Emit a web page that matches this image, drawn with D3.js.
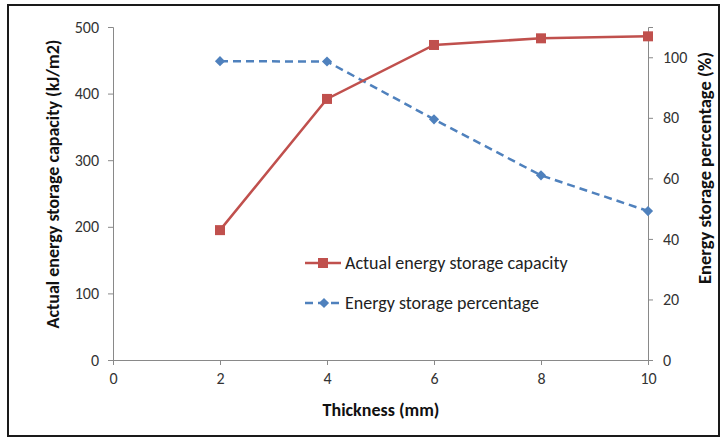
<!DOCTYPE html>
<html>
<head>
<meta charset="utf-8">
<script src="https://cdn.jsdelivr.net/npm/d3@7"></script>
<style>
  body { margin: 0; background: #fff; }
  text { font-family: Carlito, "Liberation Sans", Arial, sans-serif; }
  .axis path, .axis line { stroke: #898989; }
  .axis text { fill: #333; font-size: 16px; }
</style>
</head>
<body>
<script>

// data
var thickness = [2, 4, 6, 8, 10];
var capacity = [195, 392, 473, 483, 486];
var percentage = [98.7, 98.6, 79.5, 61, 49.2];

var xTicks = [0, 2, 4, 6, 8, 10];
var yLeftTicks = [0, 100, 200, 300, 400, 500];
var yRightTicks = [0, 20, 40, 60, 80, 100];

var size_graph = { x : 721, y : 439 }
var margin = {top: 27, right: 72, bottom: 79, left: 113},
    width  = 648 - margin.left,
    height = 360 - margin.top;

var x = d3.scaleLinear().domain([0, 10]).range([0, width]);
var yL = d3.scaleLinear().domain([0, 500]).range([height, 0]);
var yR = d3.scaleLinear().domain([0, 110]).range([height, 0]);

var root = d3.select("body").append("svg")
    .attr("width", size_graph.x)
    .attr("height", size_graph.y);

// outer frame
root.append("rect")
    .attr("x", 8).attr("y", 5)
    .attr("width", 711).attr("height", 431)
    .attr("fill", "none")
    .attr("stroke", "#1a1a1a")
    .attr("stroke-width", 2);

var svg = root.append("g")
    .attr("transform", `translate(${margin.left},${margin.top})`);

svg.append("g").attr("class", "axis")
    .attr("transform", `translate(0,${height})`)
    .call(d3.axisBottom(x).tickValues(xTicks).tickSize(5).tickPadding(8));

svg.append("g").attr("class", "axis")
    .call(d3.axisLeft(yL).tickValues(yLeftTicks).tickSize(5).tickPadding(9));

svg.append("g").attr("class", "axis")
    .attr("transform", `translate(${width},0)`)
    .call(d3.axisRight(yR).tickValues(yRightTicks).tickSize(5).tickPadding(10));

svg.selectAll(".axis").attr("font-size", null).attr("font-family", null);

var red = "#C0504D", blue = "#4F81BD";
var pts = thickness.map((t, i) => ({t: t, c: capacity[i], p: percentage[i]}));

svg.append("path")
    .datum(pts)
    .attr("fill", "none")
    .attr("stroke", blue)
    .attr("stroke-width", 2.5)
    .attr("stroke-dasharray", "8,5")
    .attr("d", d3.line().x(d => x(d.t)).y(d => yR(d.p)));

svg.selectAll(".dia")
    .data(pts).enter().append("path")
    .attr("transform", d => `translate(${x(d.t)},${yR(d.p)}) rotate(45)`)
    .attr("d", "M-3.6,-3.6h7.2v7.2h-7.2z")
    .attr("fill", blue);

svg.append("path")
    .datum(pts)
    .attr("fill", "none")
    .attr("stroke", red)
    .attr("stroke-width", 2.5)
    .attr("d", d3.line().x(d => x(d.t)).y(d => yL(d.c)));

svg.selectAll(".sq")
    .data(pts).enter().append("rect")
    .attr("x", d => x(d.t) - 5)
    .attr("y", d => yL(d.c) - 5)
    .attr("width", 10).attr("height", 10)
    .attr("fill", red);

// legend
var legend = root.append("g").attr("transform", "translate(305,263)");
legend.append("line").attr("x1", 0).attr("x2", 36).attr("y1", 0).attr("y2", 0)
    .attr("stroke", red).attr("stroke-width", 2.5);
legend.append("rect").attr("x", 13).attr("y", -5).attr("width", 10).attr("height", 10)
    .attr("fill", red);
legend.append("text").attr("x", 40).attr("y", 6).attr("font-size", 18).attr("fill", "#222")
    .text("Actual energy storage capacity");

legend.append("line").attr("x1", 0).attr("x2", 36).attr("y1", 40).attr("y2", 40)
    .attr("stroke", blue).attr("stroke-width", 2.5).attr("stroke-dasharray", "8,5");
legend.append("path").attr("transform", "translate(19,40) rotate(45)")
    .attr("d", "M-3.6,-3.6h7.2v7.2h-7.2z").attr("fill", blue);
legend.append("text").attr("x", 40).attr("y", 46).attr("font-size", 18).attr("fill", "#222")
    .text("Energy storage percentage");

// axis titles
root.append("text")
    .attr("transform", "translate(59,184) rotate(-90)")
    .attr("text-anchor", "middle")
    .attr("font-size", 18).attr("font-weight", "bold").attr("fill", "#111")
    .text("Actual energy storage capacity (kJ/m2)");

root.append("text")
    .attr("transform", "translate(711,168) rotate(-90)")
    .attr("text-anchor", "middle")
    .attr("font-size", 18.5).attr("font-weight", "bold").attr("fill", "#111")
    .text("Energy storage percentage (%)");

root.append("text")
    .attr("x", 381).attr("y", 416)
    .attr("text-anchor", "middle")
    .attr("font-size", 18).attr("font-weight", "bold").attr("fill", "#111")
    .text("Thickness (mm)");

</script>
</body>
</html>
